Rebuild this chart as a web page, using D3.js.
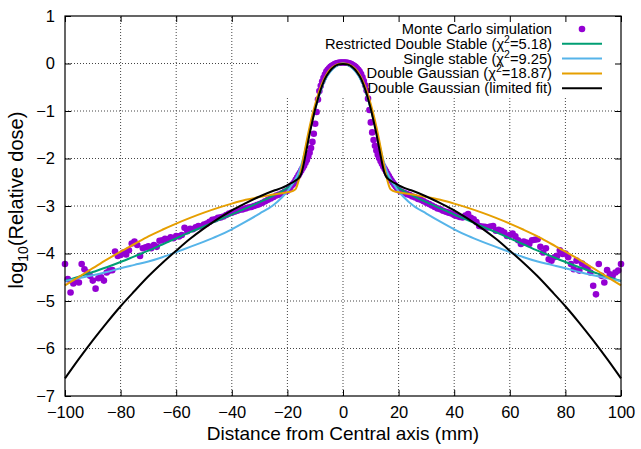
<!DOCTYPE html>
<html>
<head>
<meta charset="utf-8">
<script src="https://cdn.jsdelivr.net/npm/d3@7"></script>
<style>
    body { margin: 0; background: #fff; }
    svg text { font-family: "Liberation Sans", Arial, Helvetica, sans-serif; fill: #000; }
</style>
</head>
<body>
<div id="chart"></div>
<script>
// x grid shared by the fitted curves (mm)
const fitX = [-100,-95,-90,-85,-80,-75,-70,-65,-60,-55,-50,-45,-40,-35,-30,-25,-22,
    -20,-19,-18,-17,-16,-15,-14,-13,-12,-11,-10,-9,-8,-7,-6,-5,-4,-3,-2,-1,
    0,
    1,2,3,4,5,6,7,8,9,10,11,12,13,14,15,16,17,18,19,20,
    22,25,30,35,40,45,50,55,60,65,70,75,80,85,90,95,100];

const restrictedDoubleStable = [-4.58,-4.49,-4.39,-4.29,-4.18,-4.06,-3.94,-3.81,-3.68,-3.55,-3.43,-3.30,-3.18,-3.05,-2.92,-2.78,-2.69,
    -2.62,-2.58,-2.53,-2.46,-2.36,-2.20,-1.97,-1.70,-1.43,-1.18,-0.95,-0.74,-0.56,-0.41,-0.29,-0.20,-0.13,-0.08,-0.04,-0.01,
    0,
    -0.01,-0.04,-0.08,-0.13,-0.20,-0.29,-0.41,-0.56,-0.74,-0.95,-1.18,-1.43,-1.70,-1.97,-2.20,-2.36,-2.46,-2.53,-2.58,-2.62,
    -2.69,-2.78,-2.92,-3.05,-3.18,-3.30,-3.43,-3.55,-3.68,-3.81,-3.94,-4.06,-4.18,-4.29,-4.39,-4.49,-4.58];

const singleStable = [-4.58,-4.52,-4.46,-4.39,-4.31,-4.24,-4.17,-4.08,-3.97,-3.86,-3.75,-3.63,-3.49,-3.33,-3.16,-2.98,-2.82,
    -2.69,-2.61,-2.52,-2.42,-2.30,-2.13,-1.92,-1.67,-1.42,-1.18,-0.96,-0.75,-0.57,-0.42,-0.30,-0.21,-0.14,-0.08,-0.04,-0.01,
    0,
    -0.01,-0.04,-0.08,-0.14,-0.21,-0.30,-0.42,-0.57,-0.75,-0.96,-1.18,-1.42,-1.67,-1.92,-2.13,-2.30,-2.42,-2.52,-2.61,-2.69,
    -2.82,-2.98,-3.16,-3.33,-3.49,-3.63,-3.75,-3.86,-3.97,-4.08,-4.17,-4.24,-4.31,-4.39,-4.46,-4.52,-4.58];

const doubleGaussian = [-4.67,-4.49,-4.31,-4.13,-3.96,-3.80,-3.64,-3.50,-3.37,-3.25,-3.14,-3.04,-2.95,-2.87,-2.81,-2.76,-2.73,
    -2.71,-2.70,-2.68,-2.64,-2.47,-2.22,-1.91,-1.61,-1.33,-1.08,-0.86,-0.66,-0.49,-0.35,-0.24,-0.15,-0.09,-0.05,-0.02,-0.005,
    0,
    -0.005,-0.02,-0.05,-0.09,-0.15,-0.24,-0.35,-0.49,-0.66,-0.86,-1.08,-1.33,-1.61,-1.91,-2.22,-2.47,-2.64,-2.68,-2.70,-2.71,
    -2.73,-2.76,-2.81,-2.87,-2.95,-3.04,-3.14,-3.25,-3.37,-3.50,-3.64,-3.80,-3.96,-4.13,-4.31,-4.49,-4.67];

const doubleGaussianLimited = [-6.63,-6.22,-5.83,-5.46,-5.11,-4.79,-4.48,-4.20,-3.94,-3.69,-3.47,-3.27,-3.09,-2.94,-2.80,-2.68,-2.62,
    -2.56,-2.53,-2.50,-2.46,-2.42,-2.32,-2.08,-1.78,-1.48,-1.21,-0.96,-0.74,-0.55,-0.39,-0.27,-0.18,-0.11,-0.06,-0.03,-0.015,
    -0.01,
    -0.015,-0.03,-0.06,-0.11,-0.18,-0.27,-0.39,-0.55,-0.74,-0.96,-1.21,-1.48,-1.78,-2.08,-2.32,-2.42,-2.46,-2.50,-2.53,-2.56,
    -2.62,-2.68,-2.80,-2.94,-3.09,-3.27,-3.47,-3.69,-3.94,-4.20,-4.48,-4.79,-5.11,-5.46,-5.83,-6.22,-6.63];

// Monte Carlo points (x in mm, log10 dose)
const mcX = [-100,-99,-98,-97,-96,-95,-94,-93,-92,-91,-90,-89,-88,-87,-86,-85,-84,-83,-82,-81,
    -80,-79,-78,-77,-76,-75,-74,-73,-72,-71,-70,-69,-68,-67,-66,-65,-64,-63,-62,-61,
    -60,-59,-58,-57,-56,-55,-54,-53,-52,-51,-50,-49,-48,-47,-46,-45,-44,-43,-42,-41,
    -40,-39,-38,-37,-36,-35,-34,-33,-32,-31,-30,-29,-28,-27,-26,-25,-24,-23,-22,-21,
    -20,-19.5,-19,-18.5,-18,-17.5,-17,-16.5,-16,-15.5,-15,-14.5,-14,-13.5,-13,-12.5,-12,-11.5,-11,-10.5,
    -10,-9.5,-9,-8.5,-8,-7.5,-7,-6.5,-6,-5.5,-5,-4.5,-4,-3.5,-3,-2.5,-2,-1.5,-1,-0.5,
    0,0.5,1,1.5,2,2.5,3,3.5,4,4.5,5,5.5,6,6.5,7,7.5,8,8.5,9,9.5,
    10,10.5,11,11.5,12,12.5,13,13.5,14,14.5,15,15.5,16,16.5,17,17.5,18,18.5,19,19.5,20,
    21,22,23,24,25,26,27,28,29,30,31,32,33,34,35,36,37,38,39,40,
    41,42,43,44,45,46,47,48,49,50,51,52,53,54,55,56,57,58,59,60,
    61,62,63,64,65,66,67,68,69,70,71,72,73,74,75,76,77,78,79,80,
    81,82,83,84,85,86,87,88,89,90,91,92,93,94,95,96,97,98,99,100];

const mcY = [-4.22,-4.54,-4.82,-4.63,-4.58,-4.61,-4.22,-4.33,-4.40,-4.47,-4.57,-4.74,-4.52,-4.50,-4.57,-4.40,-4.36,-4.35,-3.96,-4.05,
    -4.03,-3.98,-4.02,-3.93,-3.79,-3.75,-3.82,-4.05,-3.89,-3.87,-3.85,-3.89,-3.82,-3.86,-3.73,-3.72,-3.69,-3.70,-3.66,-3.68,
    -3.63,-3.64,-3.61,-3.46,-3.53,-3.48,-3.49,-3.45,-3.42,-3.43,-3.39,-3.37,-3.33,-3.29,-3.28,-3.25,-3.24,-3.22,-3.19,-3.16,
    -3.14,-3.12,-3.10,-3.08,-3.07,-3.05,-3.03,-3.02,-3.00,-2.98,-2.96,-2.93,-2.90,-2.87,-2.84,-2.81,-2.78,-2.76,-2.73,-2.70,
    -2.68,-2.64,-2.61,-2.57,-2.54,-2.50,-2.45,-2.40,-2.35,-2.30,-2.25,-2.20,-2.15,-2.09,-2.03,-1.96,-1.88,-1.78,-1.65,-1.48,
    -1.27,-1.02,-0.76,-0.58,-0.47,-0.38,-0.30,-0.23,-0.17,-0.13,-0.10,-0.07,-0.05,-0.03,-0.01,0.00,0.01,0.015,0.02,0.02,
    0.02,0.02,0.02,0.015,0.01,0.00,-0.01,-0.03,-0.05,-0.07,-0.10,-0.13,-0.17,-0.22,-0.29,-0.37,-0.46,-0.57,-0.74,-0.98,
    -1.24,-1.45,-1.61,-1.73,-1.83,-1.92,-1.99,-2.05,-2.11,-2.17,-2.22,-2.27,-2.32,-2.37,-2.42,-2.47,-2.51,-2.55,-2.59,-2.63,-2.67,
    -2.70,-2.72,-2.75,-2.77,-2.80,-2.82,-2.85,-2.87,-2.90,-2.93,-2.96,-2.99,-3.02,-3.05,-3.07,-3.10,-3.12,-3.14,-3.16,-3.19,
    -3.21,-3.23,-3.24,-3.20,-3.17,-3.25,-3.28,-3.34,-3.42,-3.43,-3.44,-3.45,-3.43,-3.42,-3.52,-3.50,-3.52,-3.56,-3.63,-3.61,
    -3.58,-3.64,-3.72,-3.80,-3.75,-3.77,-3.80,-3.72,-3.71,-3.70,-3.86,-3.98,-3.89,-4.12,-4.15,-4.08,-4.05,-3.93,-4.01,-4.00,
    -4.08,-4.22,-4.33,-4.15,-4.36,-4.21,-4.26,-4.30,-4.40,-4.68,-4.86,-4.22,-4.47,-4.61,-4.35,-4.44,-4.47,-4.40,-4.36,-4.22];

const xTicks = [-100,-80,-60,-40,-20,0,20,40,60,80,100];
const yTicks = [1,0,-1,-2,-3,-4,-5,-6,-7];

const seriesNames = ["Restricted Double Stable", "Single stable", "Double Gaussian", "Double Gaussian (limited fit)"];
const chiValues = ["5.18", "9.25", "18.87", null];
const seriesColors = ["#009e73", "#56b4e9", "#e69f00", "#000000"];
const mcName = "Monte Carlo simulation";
const mcColor = "#9400d3";

document.addEventListener("DOMContentLoaded", drawChart);

function drawChart() {
    const width = 641,
        height = 449,
        margin = {left: 65, right: 20, top: 16, bottom: 53};

    const svg = d3.select("#chart").append("svg")
        .attr("width", width)
        .attr("height", height);

    const x = d3.scaleLinear().domain([-100, 100]).range([margin.left, width - margin.right]);
    const y = d3.scaleLinear().domain([-7, 1]).range([height - margin.bottom, margin.top]);

    const x0 = x.range()[0], x1 = x.range()[1], y0 = y.range()[0], y1 = y.range()[1];

    // grid
    const grid = svg.append("g").attr("stroke", "#444").attr("stroke-width", 1).attr("stroke-dasharray", "1,2");
    grid.selectAll(".gx").data(xTicks.slice(1, -1)).enter().append("line")
        .attr("x1", d => x(d)).attr("x2", d => x(d)).attr("y1", y0).attr("y2", y1);
    grid.selectAll(".gy").data(yTicks.slice(1, -1)).enter().append("line")
        .attr("x1", x0).attr("x2", x1).attr("y1", d => y(d)).attr("y2", d => y(d));

    // key area hides the grid
    svg.append("rect")
        .attr("x", 260).attr("y", y1 + 1)
        .attr("width", x1 - 261).attr("height", 79)
        .attr("fill", "#fff");

    // axes with inward ticks on all sides
    const tickLen = 6;
    svg.append("g").attr("transform", `translate(0,${y0})`)
        .call(d3.axisBottom(x).tickValues(xTicks).tickSize(-tickLen).tickPadding(10))
        .call(g => g.select(".domain").remove());
    svg.append("g").attr("transform", `translate(0,${y1})`)
        .call(d3.axisTop(x).tickValues(xTicks).tickSize(-tickLen).tickFormat(""))
        .call(g => g.select(".domain").remove());
    svg.append("g").attr("transform", `translate(${x0},0)`)
        .call(d3.axisLeft(y).tickValues(yTicks).tickSize(-tickLen).tickPadding(10))
        .call(g => g.select(".domain").remove());
    svg.append("g").attr("transform", `translate(${x1},0)`)
        .call(d3.axisRight(y).tickValues(yTicks).tickSize(-tickLen).tickFormat(""))
        .call(g => g.select(".domain").remove());

    svg.selectAll(".tick text")
        .style("font-size", "16.5px")
        .style("font-family", "'Liberation Sans', Arial, sans-serif");
    svg.selectAll(".tick line").attr("stroke", "#000");

    // plotted data
    svg.append("g").selectAll("circle")
        .data(mcX.map((d, i) => [d, mcY[i]]))
        .enter().append("circle")
        .attr("cx", d => x(d[0]))
        .attr("cy", d => y(d[1]))
        .attr("r", 3.3)
        .attr("fill", mcColor);

    const line = d3.line()
        .x((d, i) => x(fitX[i]))
        .y(d => y(d))
        .curve(d3.curveMonotoneX);

    const curves = [restrictedDoubleStable, singleStable, doubleGaussian, doubleGaussianLimited];
    svg.append("g").selectAll("path")
        .data(curves)
        .enter().append("path")
        .attr("d", d => line(d))
        .attr("fill", "none")
        .attr("stroke", (d, i) => seriesColors[i])
        .attr("stroke-width", 2);

    // border
    svg.append("rect")
        .attr("x", x0).attr("y", y1)
        .attr("width", x1 - x0).attr("height", y0 - y1)
        .attr("fill", "none").attr("stroke", "#000").attr("stroke-width", 1.2);

    // key
    const keyTextX = 552, keySx0 = 562, keySx1 = 602, rowH = 14.8, firstBase = 34;
    const key = svg.append("g").style("font-size", "14.7px");

    key.append("text")
        .attr("x", keyTextX).attr("y", firstBase)
        .attr("text-anchor", "end")
        .text(mcName);
    key.append("circle")
        .attr("cx", (keySx0 + keySx1) / 2).attr("cy", firstBase - 5)
        .attr("r", 3.3).attr("fill", mcColor);

    seriesNames.forEach((name, i) => {
        const base = firstBase + (i + 1) * rowH;
        const t = key.append("text")
            .attr("x", keyTextX).attr("y", base)
            .attr("text-anchor", "end");
        if (chiValues[i]) {
            t.append("tspan").text(name + " (\u03c7");
            t.append("tspan").attr("dy", -6).style("font-size", "10.5px").text("2");
            t.append("tspan").attr("dy", 6).text("=" + chiValues[i] + ")");
        } else {
            t.text(name);
        }
        key.append("line")
            .attr("x1", keySx0).attr("x2", keySx1)
            .attr("y1", base - 5).attr("y2", base - 5)
            .attr("stroke", seriesColors[i]).attr("stroke-width", 2);
    });

    // axis titles
    svg.append("text")
        .attr("x", (x0 + x1) / 2).attr("y", 440)
        .attr("text-anchor", "middle")
        .style("font-size", "19px")
        .text("Distance from Central axis (mm)");

    const yt = svg.append("text")
        .attr("transform", `translate(23,${(y0 + y1) / 2 - 6}) rotate(-90)`)
        .attr("text-anchor", "middle")
        .style("font-size", "20px");
    yt.append("tspan").text("log");
    yt.append("tspan").attr("dy", 5).style("font-size", "14px").text("10");
    yt.append("tspan").attr("dy", -5).text("(Relative dose)");
}
</script>
</body>
</html>
